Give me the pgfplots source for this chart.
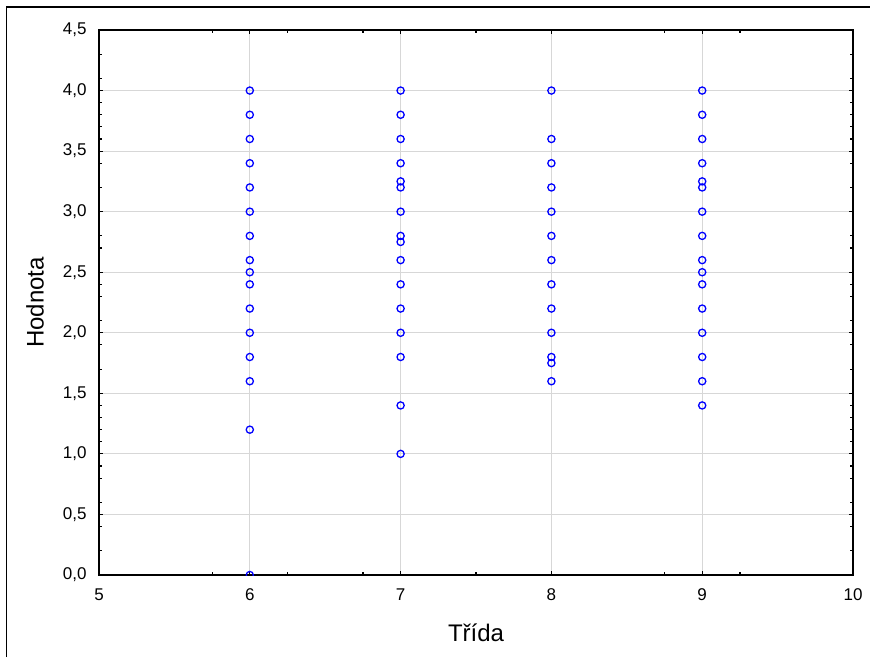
\documentclass[border=0pt]{standalone}
\usepackage{fontspec}
\setmainfont{Liberation Sans}
\usepackage{pgfplots}
\pgfplotsset{compat=1.18}
\definecolor{markblue}{RGB}{0,0,255}
\definecolor{gridgray}{RGB}{215,215,215}
\begin{document}
\begin{tikzpicture}
\useasboundingbox (0,0) rectangle (435pt,328.5pt);
\draw[line width=0.8pt] (3.2pt,0) -- (3.2pt,325pt) -- (435pt,325pt);
\begin{axis}[
    at={(49.5pt,41pt)}, anchor=south west,
    scale only axis, width=377pt, height=272.5pt,
    xmin=5, xmax=10, ymin=0, ymax=4.5,
    xtick={5,6,7,8,9,10}, ytick={0,0.5,...,4.5},
    minor xtick={5.75,6.25,6.75,7.5,8.75,9.25},
    minor ytick={0.2,0.4,0.6,0.8,0.9,1.1,1.2,1.3,1.4,1.7,1.9,2.1,2.3,2.4,2.7,2.8,3.2,3.4,3.6,3.7,3.8,3.9,4.1,4.3},
    tick align=inside, major tick length=2.2pt, minor tick length=1.6pt,
    tick style={black, line width=0.6pt},
    axis line style={line width=0.7pt},
    xmajorgrids, ymajorgrids,
    grid style={gridgray, line width=0.5pt},
    clip marker paths=true,
    ticklabel style={font=\fontsize{8.5}{10}\selectfont},
    /pgf/number format/assume math mode=true,
    yticklabel style={/pgf/number format/.cd, use comma, fixed, fixed zerofill, precision=1, /tikz/.cd, xshift=-2.7pt},
    xticklabel style={yshift=-3.5pt},
    xlabel={Třída}, ylabel={Hodnota},
    label style={font=\fontsize{12}{14}\selectfont},
    xlabel style={at={(axis description cs:0.5,0)}, anchor=center, yshift=-29pt},
    ylabel style={at={(axis description cs:0,0.5)}, anchor=center, rotate=0, yshift=32pt},
]
\addplot[only marks, mark=o, mark size=1.8pt, markblue, mark options={line width=0.65pt}] coordinates {
(6,4.0) (6,3.8) (6,3.6) (6,3.4) (6,3.2) (6,3.0) (6,2.8) (6,2.6) (6,2.5) (6,2.4)
(6,2.2) (6,2.0) (6,1.8) (6,1.6) (6,1.2) (6,0.0)
(7,4.0) (7,3.8) (7,3.6) (7,3.4) (7,3.25) (7,3.2) (7,3.0) (7,2.8) (7,2.75) (7,2.6)
(7,2.4) (7,2.2) (7,2.0) (7,1.8) (7,1.4) (7,1.0)
(8,4.0) (8,3.6) (8,3.4) (8,3.2) (8,3.0) (8,2.8) (8,2.6) (8,2.4) (8,2.2) (8,2.0)
(8,1.8) (8,1.75) (8,1.6)
(9,4.0) (9,3.8) (9,3.6) (9,3.4) (9,3.25) (9,3.2) (9,3.0) (9,2.8) (9,2.6) (9,2.5)
(9,2.4) (9,2.2) (9,2.0) (9,1.8) (9,1.6) (9,1.4)
};
\end{axis}
\end{tikzpicture}
\end{document}
